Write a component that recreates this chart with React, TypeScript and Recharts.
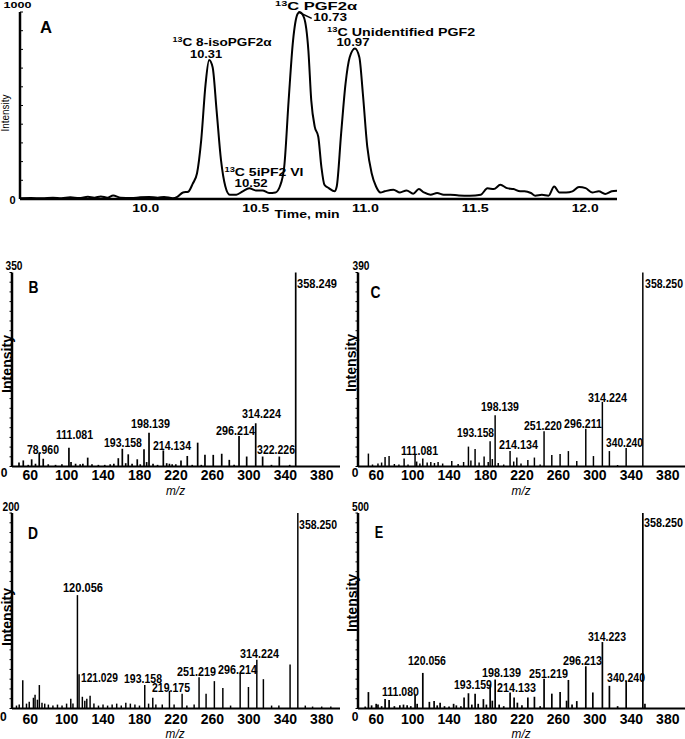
import React from 'react';
import { LineChart, Line, ComposedChart, Bar, XAxis, YAxis, ReferenceDot, ReferenceLine } from 'recharts';

const FONT = "'Liberation Sans', Arial, Helvetica, sans-serif";

// ---------- Panel A: chromatogram ----------
const chromTime = [9.427,9.477,9.527,9.577,9.616,9.656,9.696,9.736,9.765,9.795,9.825,9.851,9.885,9.934,9.974,10.014,10.054,10.083,10.123,10.143,10.169,10.193,10.213,10.233,10.252,10.272,10.288,10.304,10.322,10.342,10.362,10.382,10.412,10.441,10.471,10.501,10.531,10.561,10.590,10.610,10.630,10.650,10.670,10.690,10.700,10.720,10.740,10.753,10.769,10.785,10.799,10.813,10.833,10.859,10.869,10.889,10.909,10.928,10.952,10.972,10.988,11.008,11.028,11.048,11.068,11.087,11.127,11.157,11.187,11.217,11.243,11.266,11.296,11.326,11.356,11.386,11.425,11.475,11.525,11.555,11.584,11.614,11.644,11.674,11.704,11.724,11.753,11.773,11.803,11.833,11.859,11.883,11.913,11.942,11.972,12.002,12.032,12.062,12.091,12.121,12.145];
const chromIntensity = [4,5,4,7,4,9,5,12,7,14,7,19,7,5,9,11,7,11,4,11,35,39,81,138,315,616,743,704,474,209,67,23,23,41,57,46,46,32,35,67,173,527,846,988,1000,970,793,527,386,333,173,76,58,41,67,350,616,758,805,758,563,280,138,67,35,41,50,35,46,28,53,35,23,32,23,23,19,18,23,57,53,76,58,53,41,41,32,18,23,18,67,35,35,41,64,58,35,41,27,41,44];
const timeTicks = [10, 10.5, 11, 11.5, 12];
const timeTickLabels = ['10.0', '10.5', '11.0', '11.5', '12.0'];
const intensityTicksA = [0,100,200,300,400,500,600,700,800,900,1000];

type ALabel = { sup?: string; text: string; t: number; v: number; w: number };
const labelsA: ALabel[] = [
  { sup: '13', text: 'C 8-isoPGF2α', t: 10.347, v: 837, w: 99 },
  { text: '10.31', t: 10.274, v: 775, w: 32 },
  { sup: '13', text: 'C PGF2α', t: 10.775, v: 1032, w: 82 },
  { text: '10.73', t: 10.839, v: 973, w: 34 },
  { sup: '13', text: 'C Unidentified PGF2', t: 11.162, v: 893, w: 148 },
  { text: '10.97', t: 10.943, v: 840, w: 33 },
  { sup: '13', text: 'C 5iPF2 VI', t: 10.538, v: 144, w: 79 },
  { text: '10.52', t: 10.479, v: 86, w: 33 },
];

// ---------- Spectra ----------
const mzTicks = [60, 100, 140, 180, 220, 260, 300, 340, 380];

const bMz = [47.9,52.6,58,61.8,66,70.1,74.5,80,88,95,102.7,105,110,115,118,123.3,128,135,142,148,152,156.9,161.3,165,167.8,172,177.7,181,185.1,188,190.6,195,200,206.3,210,213,216,220,225.7,232.6,238,244,248,252,261.1,270.4,278.7,284,289.4,297.8,307.7,315.3,325,333.6,345,351.6];
const bInt = [7,11,3,13,5,25,14,4,3,4,34,8,5,4,5,16,4,3,3,4,5,15,32,6,22,5,13,4,31,8,61,5,3,29,6,5,4,4,11,19,3,43,3,21,21,23,12,3,55,18,78,18,3,18,3,350];

const cMz = [51.5,56,62,66,69.8,74.2,80,85,90.7,95,102.7,104.5,108,111.2,116,120,124,128,133,143,150,156,161.3,164,168.6,173,178.5,183,185.1,187.5,190.6,194,200,207,211,214.4,219,226.5,233.7,240,244.3,252.8,261.9,271,280.2,290.1,298.5,308.3,316,325,334.4,352.7];
const cInt = [26,4,6,8,19,21,5,4,16,4,25,10,6,16,8,9,7,9,6,11,5,9,40,12,35,8,20,9,51,15,103,7,4,31,10,18,6,13,18,4,71,23,25,31,11,76,21,130,31,3,37,390];

const dMz = [45,48,51.9,56,59,63.6,65.4,68,70.1,73,76,80,85,90,95,100,104.6,107,111.9,113.7,117.3,120,122.2,125.8,130,135,140,145,150,155,160,165,170,175,180,185.8,190,194.6,198,205,212.9,218,226.8,232,240,245.4,253.1,262.2,271.5,280,290.5,299.6,308.8,316,325,333,345.3,353.8,362,370,380,390];
const dInt = [3,4,29,5,7,11,14,9,24,6,5,4,3,4,3,5,10,5,116,35,12,8,10,13,5,3,4,3,4,5,3,6,5,4,3,24,5,11,4,4,18,4,15,3,4,32,15,28,21,3,36,22,50,30,3,3,45,200,3,2,2,2];

const eMz = [48,51.5,55,60,62,66,69.8,74.2,80,86,90,94,98,102.7,105,111.2,118.4,123.6,127,130.2,135,140,145,148,153,156.5,161.3,165,168.6,172,177.7,181,185.1,187.5,190.6,195,200,207,211.4,215,220,226.5,233.7,240,244.3,252.8,261.9,269,271,275,280.2,290.1,297.8,308.3,316,325,334.4,352.7,355];
const eInt = [5,42,8,12,10,6,24,22,6,8,10,8,6,34,12,91,17,19,8,15,6,5,12,8,6,28,39,10,38,12,24,10,58,20,74,10,6,41,28,15,8,28,30,6,76,38,42,20,73,10,19,108,41,170,58,6,70,500,12];

type SLabel = { text: string; m: number; v: number; w: number };
const bLabels: SLabel[] = [
  { text: '358.249', m: 374.8, v: 331, w: 40 },
  { text: '314.224', m: 313.8, v: 96.5, w: 39 },
  { text: '296.214', m: 285.3, v: 65.8, w: 39 },
  { text: '322.226', m: 329.8, v: 31.6, w: 38 },
  { text: '198.139', m: 192, v: 78.5, w: 39 },
  { text: '193.158', m: 161.8, v: 44.2, w: 38 },
  { text: '214.134', m: 215.6, v: 38.8, w: 38 },
  { text: '111.081', m: 108.6, v: 58.6, w: 37 },
  { text: '78.960', m: 74, v: 31.6, w: 32 },
];
const cLabels: SLabel[] = [
  { text: '358.250', m: 375.9, v: 368.9, w: 38 },
  { text: '314.224', m: 313.8, v: 139.7, w: 39 },
  { text: '296.211', m: 287, v: 87.5, w: 38 },
  { text: '340.240', m: 332.5, v: 49.3, w: 37 },
  { text: '251.220', m: 243, v: 83.4, w: 38 },
  { text: '198.139', m: 195.8, v: 121.6, w: 38 },
  { text: '193.158', m: 169, v: 69.4, w: 37 },
  { text: '214.134', m: 216.2, v: 45.2, w: 39 },
  { text: '111.081', m: 107.5, v: 33.2, w: 37 },
];
const dLabels: SLabel[] = [
  { text: '358.250', m: 375.9, v: 188.7, w: 38 },
  { text: '120.056', m: 117.9, v: 124.3, w: 40 },
  { text: '121.029', m: 136, v: 32.2, w: 37 },
  { text: '193.158', m: 183.8, v: 31.2, w: 38 },
  { text: '219.175', m: 214.5, v: 22, w: 38 },
  { text: '251.219', m: 242.5, v: 38.4, w: 39 },
  { text: '296.214', m: 287.5, v: 40.4, w: 39 },
  { text: '314.224', m: 311.6, v: 56.8, w: 39 },
];
const eLabels: SLabel[] = [
  { text: '358.250', m: 375.3, v: 477, w: 39 },
  { text: '314.223', m: 313.3, v: 185.5, w: 38 },
  { text: '296.213', m: 286.4, v: 124, w: 39 },
  { text: '340.240', m: 334.2, v: 80.6, w: 38 },
  { text: '251.219', m: 249.1, v: 91.3, w: 39 },
  { text: '198.139', m: 197.5, v: 93.9, w: 39 },
  { text: '193.159', m: 166.2, v: 62.7, w: 38 },
  { text: '214.133', m: 214, v: 55, w: 39 },
  { text: '120.056', m: 115.7, v: 124, w: 38 },
  { text: '111.080', m: 86.6, v: 44.8, w: 37 },
];

// ---------- helpers ----------
function TextMark(props: any) {
  const { cx, cy, text, sup, w, size = 13, weight = 'bold', anchor = 'middle', italic = false, rotate = false } = props;
  const base = size * 0.36;
  const common: any = {
    textAnchor: anchor,
    fontFamily: FONT,
    fontSize: size,
    fontWeight: weight,
    fontStyle: italic ? 'italic' : 'normal',
    fill: '#000',
  };
  if (w) {
    common.textLength = w;
    common.lengthAdjust = 'spacingAndGlyphs';
  }
  if (rotate) {
    return (
      <text {...common} transform={`translate(${cx},${cy}) rotate(-90)`} x={0} y={base}>
        {text}
      </text>
    );
  }
  return (
    <text {...common} x={cx} y={cy + base}>
      {sup ? <tspan fontSize={size * 0.66} dy={-size * 0.38}>{sup}</tspan> : null}
      {sup ? <tspan dy={size * 0.38}>{text}</tspan> : text}
    </text>
  );
}

const A_LEFT = 20;
const AX_H = 20; // height reserved for x axes
const AY_W = 8; // width reserved for y axes

function ChromPanel() {
  const data = chromTime.map((t, i) => ({ t, v: chromIntensity[i] }));
  return (
    <div style={{ position: 'absolute', left: 0, top: 0 }}>
      <LineChart width={685} height={230} data={data} margin={{ top: 12, right: 68, bottom: 31 - AX_H, left: A_LEFT - AY_W }}>
        <XAxis
          dataKey="t"
          type="number"
          domain={[9.427, 12.145]}
          ticks={timeTicks}
          interval={0}
          height={AX_H}
          tickLine={false}
          tickSize={0}
          tickMargin={0}
          axisLine={{ stroke: '#000', strokeWidth: 2.5 }}
          tick={(p: any) => (
            <TextMark
              cx={p.x}
              cy={199 + 9}
              text={timeTickLabels[timeTicks.indexOf(p.payload.value)]}
              size={10.5}
              w={27}
            />
          )}
        />
        <YAxis
          type="number"
          domain={[0, 1000]}
          ticks={intensityTicksA}
          interval={0}
          width={AY_W}
          tickSize={-3}
          tickMargin={0}
          tickLine={{ stroke: '#000', strokeWidth: 1 }}
          axisLine={{ stroke: '#000', strokeWidth: 2.5 }}
          tick={(p: any) => {
            const v = p.payload.value;
            if (v === 1000) return <TextMark cx={A_LEFT - 2.5} cy={p.y - 7} text="1000" size={9.5} w={28} />;
            if (v === 0) return <TextMark cx={A_LEFT - 7.5} cy={p.y + 1} text="0" size={11} />;
            return <g />;
          }}
        />
        <Line type="monotone" dataKey="v" stroke="#000" strokeWidth={2} dot={false} isAnimationActive={false} />
        <ReferenceLine
          segment={[{ x: 10.694, y: 1000 }, { x: 10.755, y: 966 }]}
          stroke="#000"
          strokeWidth={1.5}
          ifOverflow="visible"
        />
        {labelsA.map((l, i) => (
          <ReferenceDot
            key={'al' + i}
            x={l.t}
            y={l.v}
            r={0}
            ifOverflow="visible"
            shape={(p: any) => <TextMark cx={p.cx} cy={p.cy} text={l.text} sup={l.sup} w={l.w} size={10.5} />}
          />
        ))}
        <ReferenceDot x={9.546} y={917} r={0} ifOverflow="visible"
          shape={(p: any) => <TextMark cx={p.cx} cy={p.cy} text="A" size={16} w={12} />} />
        <ReferenceDot x={10.734} y={-80} r={0} ifOverflow="visible"
          shape={(p: any) => <TextMark cx={p.cx} cy={p.cy} text="Time, min" size={10.5} w={65} />} />
        <ReferenceDot x={9.362} y={460} r={0} ifOverflow="visible"
          shape={(p: any) => <TextMark cx={p.cx} cy={p.cy} text="Intensity" size={10} weight="normal" w={37} rotate />} />
      </LineChart>
    </div>
  );
}

type SpecCfg = {
  divLeft: number; plotLeft: number; top: number; height: number; plotTop: number; plotBottom: number;
  mz: number[]; inten: number[]; labels: SLabel[]; yMax: number; letter: string;
  letterM: number; letterV: number; letterW: number; zeroDx: number; zeroDy: number; topDx: number;
  tickDy: number; intM: number; intV: number; mzM: number; mzV: number;
};

function Spectrum(c: SpecCfg) {
  const data = c.mz.map((m, i) => ({ m, v: c.inten[i] }));
  const yTicks = Array.from({ length: 21 }, (_, k) => (c.yMax * k) / 20);
  const axisY = c.plotBottom - c.top;
  const axisX = c.plotLeft - c.divLeft;
  const plotW = 328;
  const W = axisX + plotW + 5;
  return (
    <div style={{ position: 'absolute', left: c.divLeft, top: c.top }}>
      <ComposedChart
        width={W}
        height={c.height}
        data={data}
        margin={{ top: c.plotTop - c.top, right: 5, bottom: c.top + c.height - c.plotBottom - AX_H, left: axisX - AY_W }}
      >
        <XAxis
          dataKey="m"
          type="number"
          domain={[40, 400]}
          ticks={mzTicks}
          interval={0}
          height={AX_H}
          tickLine={false}
          tickSize={0}
          tickMargin={0}
          axisLine={{ stroke: '#000', strokeWidth: 2 }}
          tick={(p: any) => <TextMark cx={p.x} cy={axisY + c.tickDy} text={String(p.payload.value)} size={14} />}
        />
        <YAxis
          type="number"
          domain={[0, c.yMax]}
          ticks={yTicks}
          interval={0}
          width={AY_W}
          tickSize={2.5}
          tickMargin={0}
          tickLine={{ stroke: '#000', strokeWidth: 1 }}
          axisLine={{ stroke: '#000', strokeWidth: 2.5 }}
          tick={(p: any) => {
            const v = p.payload.value;
            if (v === c.yMax) return <TextMark cx={axisX + c.topDx} cy={p.y - 6.5} text={String(c.yMax)} size={12} w={17} />;
            if (v === 0) return <TextMark cx={axisX + c.zeroDx} cy={p.y + c.zeroDy} text="0" size={12} />;
            return <g />;
          }}
        />
        <Bar dataKey="v" fill="#000" barSize={1.7} isAnimationActive={false} />
        {c.labels.map((l, i) => (
          <ReferenceDot
            key={'sl' + i}
            x={l.m}
            y={l.v}
            r={0}
            ifOverflow="visible"
            shape={(p: any) => <TextMark cx={p.cx} cy={p.cy} text={l.text} w={l.w} size={13.5} />}
          />
        ))}
        <ReferenceDot x={c.letterM} y={c.letterV} r={0} ifOverflow="visible"
          shape={(p: any) => <TextMark cx={p.cx} cy={p.cy} text={c.letter} size={16} w={c.letterW} />} />
        <ReferenceDot x={c.intM} y={c.intV} r={0} ifOverflow="visible"
          shape={(p: any) => <TextMark cx={p.cx} cy={p.cy} text="Intensity" size={14} w={58} rotate />} />
        <ReferenceDot x={c.mzM} y={c.mzV} r={0} ifOverflow="visible"
          shape={(p: any) => <TextMark cx={p.cx} cy={p.cy} text="m/z" size={13} weight="normal" italic w={19} />} />
      </ComposedChart>
    </div>
  );
}

const panelB: SpecCfg = {
  divLeft: 0, plotLeft: 12, top: 230, height: 270, plotTop: 272.5, plotBottom: 466.5,
  mz: bMz, inten: bInt, labels: bLabels, yMax: 350, letter: 'B', letterM: 63.6, letterV: 323, letterW: 10,
  zeroDx: -8, zeroDy: 6.5, topDx: 2, tickDy: 8.5, intM: 34.5, intV: 185, mzM: 219.5, mzV: -42.4,
};
const panelC: SpecCfg = {
  divLeft: 338, plotLeft: 358, top: 230, height: 270, plotTop: 272.5, plotBottom: 466.5,
  mz: cMz, inten: cInt, labels: cLabels, yMax: 390, letter: 'C', letterM: 59.2, letterV: 350.8, letterW: 10,
  zeroDx: -3, zeroDy: 6.5, topDx: 3, tickDy: 8.5, intM: 32.3, intV: 208, mzM: 219, mzV: -47,
};
const panelD: SpecCfg = {
  divLeft: 0, plotLeft: 12, top: 480, height: 259, plotTop: 513, plotBottom: 708.5,
  mz: dMz, inten: dInt, labels: dLabels, yMax: 200, letter: 'D', letterM: 63, letterV: 179.5, letterW: 10,
  zeroDx: -8.7, zeroDy: 8.5, topDx: -1, tickDy: 10.5, intM: 34.2, intV: 93.6, mzM: 219, mzV: -25,
};
const panelE: SpecCfg = {
  divLeft: 338, plotLeft: 358, top: 480, height: 259, plotTop: 513, plotBottom: 708.5,
  mz: eMz, inten: eInt, labels: eLabels, yMax: 500, letter: 'E', letterM: 63, letterV: 451.5, letterW: 8.5,
  zeroDx: -3, zeroDy: 8, topDx: 2.5, tickDy: 10.5, intM: 32.9, intV: 270, mzM: 219, mzV: -62.7,
};

export default function App() {
  return (
    <div style={{ position: 'absolute', left: 0, top: 0, width: 685, height: 739, overflow: 'hidden', background: '#fff' }}>
      <ChromPanel />
      <Spectrum {...panelB} />
      <Spectrum {...panelC} />
      <Spectrum {...panelD} />
      <Spectrum {...panelE} />
    </div>
  );
}
